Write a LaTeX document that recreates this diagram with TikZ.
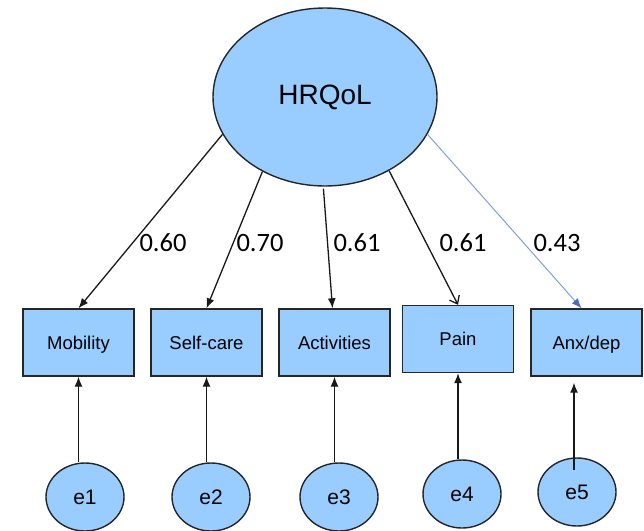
\documentclass[tikz,border=0pt]{standalone}
\usepackage{fontspec}
\usepackage{tikz}
\usetikzlibrary{arrows.meta,shapes.geometric}
\setmainfont{Liberation Sans}
\newfontfamily\numfont{Carlito}
\definecolor{nodeblue}{RGB}{153,204,255}
\definecolor{lineblue}{RGB}{125,160,220}
\definecolor{tipblue}{RGB}{70,110,200}

\begin{document}
\begin{tikzpicture}[x=1pt,y=-1pt,
    lat/.style={ellipse,draw=black!85,line width=1.4pt,fill=nodeblue,inner sep=0pt,minimum width=224pt,minimum height=178pt,font=\fontsize{28}{30}\selectfont},
    obs/.style={rectangle,draw=black!85,line width=1.4pt,fill=nodeblue,inner sep=0pt,minimum width=111pt,minimum height=67pt,text depth=0pt,font=\fontsize{18.5}{20}\selectfont},
    err/.style={ellipse,draw=black!85,line width=1.4pt,fill=nodeblue,inner sep=0pt,minimum width=78pt,minimum height=68pt,font=\fontsize{21}{23}\selectfont},
    load/.style={draw=black!90,line width=1.3pt,-{Latex[length=10pt,width=8pt]}},
    coef/.style={font=\numfont\fontsize{26.5}{28}\selectfont}]
    \useasboundingbox (0,0) rectangle (644,530);
    \node (hrqol) at (325,97) [lat] {HRQoL};
    \node (mob) at (78.5,342.5) [obs] {Mobility};
    \node (self) at (206.5,342.5) [obs] {Self-care};
    \node (act) at (334.5,342.5) [obs] {Activities};
    \node (pain) at (458,339) [obs] {Pain};
    \node (anx) at (586.5,342.5) [obs] {Anx/dep};
    \node (e1) at (85,497) [err] {e1};
    \node (e2) at (211,497) [err] {e2};
    \node (e3) at (339,497) [err] {e3};
    \node (e4) at (462,494) [err] {e4};
    \node (e5) at (577,492) [err] {e5};
    \node (c1) at (163,243) [coef] {0.60};
    \node (c2) at (260,243) [coef] {0.70};
    \node (c3) at (357,243) [coef] {0.61};
    \node (c4) at (463,243) [coef] {0.61};
    \node (c5) at (557,243) [coef] {0.43};
    \draw[load] (hrqol.200) -- (mob.north);
    \draw[load] (hrqol.230) -- (self.north);
    \draw[load] ([yshift=-2pt]hrqol.269) -- ([xshift=-2pt]act.north);
    \draw[load,-{Straight Barb[length=7pt,width=11pt]}] (hrqol.311) -- (pain.north);
    \draw[load,draw=lineblue,line width=1pt,-{Latex[length=10pt,width=8pt,color=tipblue]}] (hrqol.340) -- ([xshift=-5pt]anx.north);
    \draw[load] (mob.south |- e1.north) -- (mob.south);
    \draw[load] (self.south |- e2.north) -- (self.south);
    \draw[load] (act.south |- e3.north) -- (act.south);
    \draw[load] (pain.south |- e4.north) -- (pain.south);
    \draw[load] ([xshift=-3pt,yshift=-13pt]e5.north) -- ([xshift=-3pt,yshift=-6pt]e5.north |- anx.south);
\end{tikzpicture}
\end{document}
